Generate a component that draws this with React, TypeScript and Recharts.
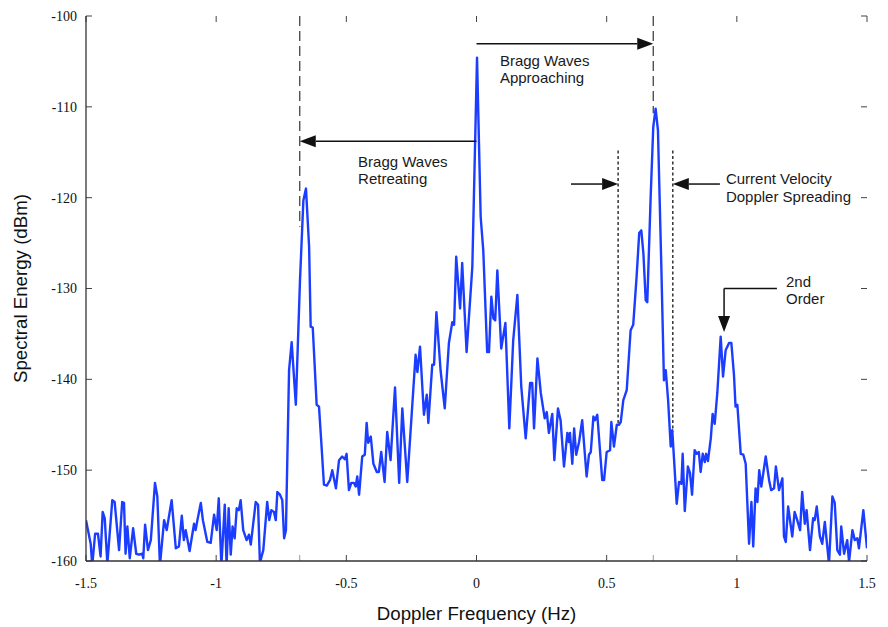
import { ComposedChart, Line, XAxis, YAxis, ReferenceLine, ReferenceDot } from 'recharts'

const xTicks = [-1.5, -1, -0.5, 0, 0.5, 1, 1.5]
const yTicks = [-160, -150, -140, -130, -120, -110, -100]

// Doppler frequency (Hz) of each sample
const freqHz = [
  -1.5, -1.482, -1.476, -1.465, -1.454, -1.444, -1.436, -1.428, -1.418, -1.399,
  -1.39, -1.373, -1.361, -1.354, -1.348, -1.341, -1.332, -1.319, -1.307, -1.296,
  -1.284, -1.28, -1.273, -1.262, -1.251, -1.235, -1.226, -1.216, -1.2, -1.19,
  -1.171, -1.155, -1.143, -1.132, -1.124, -1.117, -1.102, -1.085, -1.079, -1.072,
  -1.059, -1.051, -1.034, -1.021, -1.008, -0.998, -0.99, -0.98, -0.967, -0.96,
  -0.952, -0.944, -0.937, -0.929, -0.921, -0.913, -0.906, -0.896, -0.883, -0.874,
  -0.867, -0.848, -0.839, -0.832, -0.819, -0.804, -0.796, -0.788, -0.778, -0.771,
  -0.765, -0.755, -0.746, -0.739, -0.732, -0.72, -0.71, -0.694, -0.678, -0.665,
  -0.655, -0.643, -0.637, -0.629, -0.614, -0.605, -0.596, -0.586, -0.575, -0.563,
  -0.554, -0.54, -0.528, -0.516, -0.506, -0.499, -0.49, -0.481, -0.471, -0.464,
  -0.458, -0.451, -0.439, -0.429, -0.422, -0.416, -0.406, -0.396, -0.383, -0.375,
  -0.366, -0.353, -0.343, -0.33, -0.313, -0.297, -0.285, -0.266, -0.234, -0.227,
  -0.217, -0.202, -0.191, -0.185, -0.17, -0.163, -0.154, -0.138, -0.122, -0.106,
  -0.093, -0.086, -0.078, -0.063, -0.055, -0.038, -0.016, 0.002, 0.016, 0.026,
  0.041, 0.048, 0.057, 0.065, 0.072, 0.08, 0.095, 0.111, 0.126, 0.141,
  0.157, 0.172, 0.189, 0.206, 0.214, 0.221, 0.234, 0.247, 0.262, 0.27,
  0.278, 0.291, 0.299, 0.313, 0.323, 0.336, 0.349, 0.355, 0.359, 0.368,
  0.375, 0.383, 0.394, 0.406, 0.423, 0.432, 0.439, 0.449, 0.455, 0.464,
  0.483, 0.49, 0.5, 0.513, 0.518, 0.528, 0.539, 0.547, 0.554, 0.564,
  0.577, 0.592, 0.602, 0.615, 0.625, 0.633, 0.641, 0.65, 0.656, 0.669,
  0.679, 0.688, 0.697, 0.71, 0.72, 0.727, 0.736, 0.746, 0.752, 0.759,
  0.769, 0.778, 0.787, 0.792, 0.8, 0.812, 0.82, 0.828, 0.838, 0.846,
  0.854, 0.861, 0.869, 0.877, 0.882, 0.889, 0.9, 0.907, 0.915, 0.925,
  0.938, 0.947, 0.957, 0.97, 0.979, 0.989, 0.995, 1.002, 1.015, 1.025,
  1.034, 1.047, 1.056, 1.063, 1.072, 1.079, 1.086, 1.094, 1.111, 1.124,
  1.132, 1.143, 1.15, 1.162, 1.175, 1.181, 1.188, 1.197, 1.213, 1.222,
  1.232, 1.243, 1.251, 1.261, 1.268, 1.281, 1.293, 1.299, 1.307, 1.319,
  1.328, 1.338, 1.345, 1.354, 1.367, 1.376, 1.386, 1.396, 1.401, 1.412,
  1.424, 1.431, 1.444, 1.453, 1.463, 1.469, 1.486, 1.5,
]

// Spectral energy (dBm) at each frequency
const energyDbm = [
  -155.5, -158.1, -160.5, -157.0, -157.0, -159.5, -154.6, -155.3, -160.3, -153.3,
  -153.5, -158.8, -153.5, -153.6, -159.2, -156.2, -159.7, -156.4, -159.2, -159.3,
  -159.2, -159.7, -156.0, -158.8, -157.7, -151.4, -152.9, -160.5, -155.5, -156.6,
  -153.3, -158.6, -158.4, -155.0, -157.7, -156.6, -158.9, -155.9, -156.6, -155.5,
  -153.6, -155.5, -157.9, -158.0, -154.9, -156.6, -153.1, -160.5, -153.8, -160.5,
  -154.2, -159.3, -156.2, -157.5, -154.2, -154.4, -153.3, -156.6, -157.7, -157.1,
  -158.2, -153.5, -153.8, -160.2, -158.8, -153.5, -155.5, -154.4, -154.6, -155.5,
  -152.4, -152.7, -153.3, -157.5, -156.6, -139.0, -135.9, -142.8, -129.1, -120.3,
  -119.0, -125.4, -134.2, -134.3, -142.8, -143.0, -147.0, -151.6, -151.7, -151.1,
  -150.0, -152.0, -148.9, -148.5, -148.8, -148.2, -152.2, -151.4, -151.4, -151.8,
  -150.7, -152.7, -148.5, -148.3, -144.8, -147.0, -146.3, -149.3, -150.2, -150.2,
  -148.0, -151.3, -145.8, -148.9, -140.9, -151.4, -143.2, -151.3, -137.3, -139.2,
  -136.4, -143.9, -141.7, -144.8, -138.4, -138.4, -132.6, -139.0, -143.2, -136.0,
  -133.7, -134.0, -126.5, -132.2, -127.2, -137.0, -127.6, -104.6, -122.1, -125.8,
  -137.0, -137.0, -130.9, -133.3, -133.5, -128.0, -136.6, -133.8, -145.4, -135.7,
  -130.7, -140.8, -146.5, -140.4, -140.4, -145.4, -137.7, -141.5, -144.3, -143.6,
  -145.9, -143.8, -148.9, -143.2, -144.5, -149.6, -145.9, -146.9, -145.9, -149.3,
  -145.4, -148.3, -146.9, -144.5, -150.7, -148.3, -148.0, -144.1, -144.5, -143.9,
  -151.1, -151.1, -148.0, -147.8, -144.7, -147.4, -145.0, -145.0, -144.7, -142.3,
  -141.2, -134.6, -134.0, -128.7, -123.9, -123.6, -126.1, -131.3, -131.5, -119.9,
  -112.2, -110.2, -112.6, -127.6, -140.1, -139.0, -142.3, -147.4, -145.6, -148.9,
  -153.7, -151.3, -151.5, -148.2, -154.5, -149.6, -150.3, -152.7, -147.8, -148.2,
  -148.0, -150.2, -148.2, -149.1, -148.2, -149.0, -146.5, -143.8, -144.9, -141.5,
  -135.3, -139.7, -136.8, -136.0, -136.0, -139.5, -143.0, -142.8, -148.2, -148.3,
  -149.3, -158.1, -153.5, -158.4, -152.0, -153.5, -150.0, -151.8, -148.5, -151.1,
  -152.2, -152.0, -149.6, -152.2, -150.9, -157.3, -157.9, -154.0, -157.3, -154.6,
  -155.5, -156.6, -152.4, -155.9, -154.4, -158.8, -155.3, -155.5, -154.0, -157.3,
  -158.1, -155.7, -157.7, -160.3, -152.9, -153.6, -158.8, -159.3, -156.2, -159.2,
  -157.7, -160.1, -156.6, -157.7, -157.5, -158.6, -154.4, -158.6,
]

const spectrum = freqHz.map((f, i) => ({ f, e: energyDbm[i] }))

// annotation anchors (Hz, dBm)
const braggHz = 0.679
const spreadLowHz = 0.544
const spreadHighHz = 0.754
const secondOrderHz = 0.951

const xMin = -1.5
const xMax = 1.5
const yMin = -160
const yMax = -100
// inward tick length, in data units (about 6px)
const xTickLen = 0.023
const yTickLen = 0.66

const serif = 'Liberation Serif, Times New Roman, serif'
const sans = 'Liberation Sans, Arial, Helvetica, sans-serif'
const ink = '#111'

function Arrow(props: any) {
  const { x1, y1, x2, y2 } = props
  const len = Math.hypot(x2 - x1, y2 - y1) || 1
  const ux = (x2 - x1) / len
  const uy = (y2 - y1) / len
  const L = 16
  const W = 6
  const bx = x2 - ux * L
  const by = y2 - uy * L
  return (
    <g>
      <line x1={x1} y1={y1} x2={bx} y2={by} stroke={ink} strokeWidth={1.5} />
      <polygon
        points={`${x2},${y2} ${bx - uy * W},${by + ux * W} ${bx + uy * W},${by - ux * W}`}
        fill={ink}
      />
    </g>
  )
}

function note(lines: string[]) {
  return (p: any) => (
    <text x={p.cx} y={p.cy} fontFamily={sans} fontSize={15} fill="#1a1a1a">
      {lines.map((t, i) => (
        <tspan key={i} x={p.cx} dy={i ? 17.5 : 0}>
          {t}
        </tspan>
      ))}
    </text>
  )
}

export default function App() {
  const tickFont = { fontFamily: serif, fontSize: 14, fill: ink }
  const titleStyle = { fontFamily: sans, fontSize: 18.7, fill: ink }
  const tickStroke = '#444'
  return (
    <div style={{ position: 'absolute', left: 0, top: 0, background: '#fff' }}>
      <ComposedChart width={888} height={627} data={spectrum} margin={{ top: 16, right: 21, bottom: 0, left: 0 }}>
        <XAxis
          dataKey="f"
          type="number"
          domain={[xMin, xMax]}
          ticks={xTicks}
          allowDataOverflow
          height={66}
          stroke="#333"
          strokeWidth={1.3}
          tickLine={false}
          tickSize={0}
          tickMargin={17}
          tick={tickFont}
          label={{ value: 'Doppler Frequency (Hz)', position: 'insideBottom', offset: 7, style: titleStyle }}
        />
        <XAxis
          xAxisId="top"
          orientation="top"
          type="number"
          domain={[xMin, xMax]}
          ticks={xTicks}
          height={0}
          stroke="#333"
          strokeWidth={1.3}
          tickLine={false}
          tick={false}
        />
        <YAxis
          type="number"
          domain={[yMin, yMax]}
          ticks={yTicks}
          allowDataOverflow
          width={86}
          stroke="#333"
          strokeWidth={1.3}
          tickLine={false}
          tickSize={0}
          tickMargin={9}
          tick={tickFont}
          label={{
            value: 'Spectral Energy (dBm)',
            angle: -90,
            position: 'insideLeft',
            offset: 20,
            textAnchor: 'middle',
            style: titleStyle,
          }}
        />
        <YAxis
          yAxisId="right"
          orientation="right"
          type="number"
          domain={[yMin, yMax]}
          ticks={yTicks}
          width={0}
          stroke="#333"
          strokeWidth={1.3}
          tickLine={false}
          tick={false}
        />

        {/* inward tick marks on all four sides */}
        {xTicks.map((t) => (
          <ReferenceLine key={`b${t}`} segment={[{ x: t, y: yMin }, { x: t, y: yMin + yTickLen }]} stroke={tickStroke} />
        ))}
        {xTicks.map((t) => (
          <ReferenceLine key={`t${t}`} segment={[{ x: t, y: yMax }, { x: t, y: yMax - yTickLen }]} stroke={tickStroke} />
        ))}
        {yTicks.map((t) => (
          <ReferenceLine key={`l${t}`} segment={[{ x: xMin, y: t }, { x: xMin + xTickLen, y: t }]} stroke={tickStroke} />
        ))}
        {yTicks.map((t) => (
          <ReferenceLine key={`r${t}`} segment={[{ x: xMax, y: t }, { x: xMax - xTickLen, y: t }]} stroke={tickStroke} />
        ))}
        <ReferenceLine segment={[{ x: -braggHz, y: yMin }, { x: -braggHz, y: yMin + yTickLen }]} stroke="#999" />
        <ReferenceLine segment={[{ x: braggHz, y: yMin }, { x: braggHz, y: yMin + yTickLen }]} stroke="#999" />

        <ReferenceLine segment={[{ x: -braggHz, y: -100 }, { x: -braggHz, y: -123.2 }]} stroke="#444" strokeWidth={1.3} strokeDasharray="10 5" />
        <ReferenceLine segment={[{ x: braggHz, y: -100 }, { x: braggHz, y: -110.7 }]} stroke="#444" strokeWidth={1.3} strokeDasharray="10 5" />
        <ReferenceLine segment={[{ x: spreadLowHz, y: -114.8 }, { x: spreadLowHz, y: -144.8 }]} stroke="#333" strokeWidth={1.5} strokeDasharray="3 2.5" />
        <ReferenceLine segment={[{ x: spreadHighHz, y: -114.8 }, { x: spreadHighHz, y: -145.8 }]} stroke="#333" strokeWidth={1.5} strokeDasharray="3 2.5" />

        <Line
          dataKey="e"
          type="linear"
          stroke="#1b3dff"
          strokeWidth={2.4}
          strokeLinejoin="round"
          dot={false}
          isAnimationActive={false}
        />

        <ReferenceLine segment={[{ x: 0, y: -103.05 }, { x: braggHz, y: -103.05 }]} shape={Arrow} />
        <ReferenceLine segment={[{ x: 0, y: -113.8 }, { x: -braggHz, y: -113.8 }]} shape={Arrow} />
        <ReferenceLine segment={[{ x: 0.363, y: -118.5 }, { x: spreadLowHz, y: -118.5 }]} shape={Arrow} />
        <ReferenceLine segment={[{ x: 0.935, y: -118.5 }, { x: spreadHighHz, y: -118.5 }]} shape={Arrow} />
        <ReferenceLine segment={[{ x: 1.154, y: -130 }, { x: secondOrderHz, y: -130 }]} stroke={ink} strokeWidth={1.5} />
        <ReferenceLine segment={[{ x: secondOrderHz, y: -130 }, { x: secondOrderHz, y: -134.8 }]} shape={Arrow} />

        <ReferenceDot x={0.09} y={-105.45} r={0} shape={note(['Bragg Waves', 'Approaching'])} />
        <ReferenceDot x={-0.455} y={-116.6} r={0} shape={note(['Bragg Waves', 'Retreating'])} />
        <ReferenceDot x={0.958} y={-118.5} r={0} shape={note(['Current Velocity', 'Doppler Spreading'])} />
        <ReferenceDot x={1.189} y={-129.8} r={0} shape={note(['2nd', 'Order'])} />
      </ComposedChart>
    </div>
  )
}
